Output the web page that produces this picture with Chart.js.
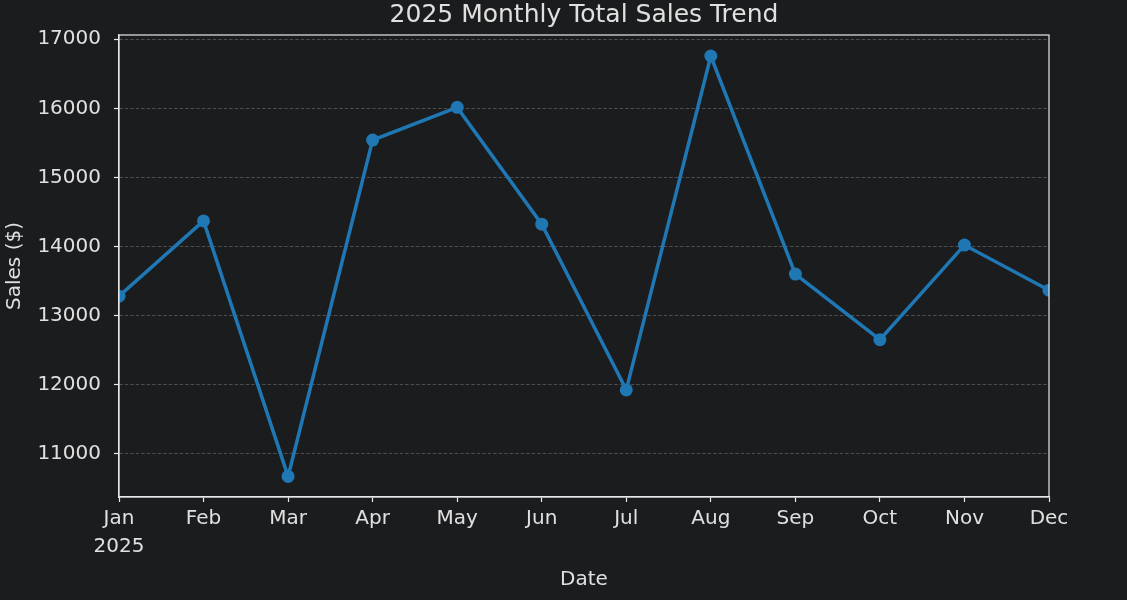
<!DOCTYPE html>
<html>
<head>
<meta charset="utf-8">
<script src="https://cdn.jsdelivr.net/npm/chart.js@4.4.1/dist/chart.umd.min.js"></script>
<style>
  html, body { margin: 0; padding: 0; background: #1b1c1e; }
  #wrap { width: 1127px; height: 600px; position: relative; }
</style>
</head>
<body>
<div id="wrap"><canvas id="salesChart"></canvas></div>
<script>
// data
const months = ['Jan', 'Feb', 'Mar', 'Apr', 'May', 'Jun', 'Jul', 'Aug', 'Sep', 'Oct', 'Nov', 'Dec'];
const monthLabels = [['Jan', '2025'], 'Feb', 'Mar', 'Apr', 'May', 'Jun', 'Jul', 'Aug', 'Sep', 'Oct', 'Nov', 'Dec'];
const sales = [13280, 14370, 10670, 15541, 16014, 14323, 11923, 16758, 13600, 12650, 14020, 13367];
const yTicks = [11000, 12000, 13000, 14000, 15000, 16000, 17000];

const textColor = '#e0e0e0';
const spineColor = '#e8e8e8';
const font = 'DejaVu Sans';

// matplotlib-style box round the plot area
const boxPlugin = {
  id: 'box',
  afterDatasetsDraw(chart) {
    const { ctx, chartArea: a } = chart;
    ctx.save();
    ctx.strokeStyle = spineColor;
    ctx.lineWidth = 1.2;
    ctx.strokeRect(a.left, a.top, a.right - a.left, a.bottom - a.top);
    ctx.restore();
  }
};

const ctx = document.getElementById('salesChart').getContext('2d');
new Chart(ctx, {
  type: 'line',
  data: {
    labels: monthLabels,
    datasets: [{
      label: 'Sales',
      data: sales,
      borderColor: '#1f77b4',
      backgroundColor: '#1f77b4',
      borderWidth: 3.5,
      pointRadius: 6.5,
      pointHoverRadius: 6.5,
      pointBorderWidth: 0,
      tension: 0,
      clip: 0
    }]
  },
  options: {
    responsive: true,
    maintainAspectRatio: false,
    animation: false,
    layout: { padding: { top: 0, right: 78, bottom: 0, left: 0 } },
    plugins: {
      legend: { display: false },
      tooltip: { enabled: false },
      title: {
        display: true,
        fullSize: false,
        text: '2025 Monthly Total Sales Trend',
        color: textColor,
        font: { family: font, size: 25, weight: 'normal', lineHeight: 1.2 },
        padding: { top: 0, bottom: 5 }
      }
    },
    scales: {
      x: {
        type: 'category',
        offset: false,
        grid: { drawOnChartArea: false, tickLength: 5, tickColor: spineColor, tickWidth: 1.2 },
        border: { color: spineColor, width: 1.2 },
        ticks: { color: textColor, font: { family: font, size: 20, lineHeight: 1.4 }, padding: 3, maxRotation: 0, autoSkip: false },
        title: { display: true, text: 'Date', color: textColor, font: { family: font, size: 20, lineHeight: 1.2 }, padding: { top: 0, bottom: 8 } },
        afterFit(scale) { scale.height = 103; }
      },
      y: {
        min: 10372,
        max: 17062,
        grid: { color: '#5c5c5c', lineWidth: 0.8, tickLength: 5, tickColor: spineColor, tickBorderDash: [], tickWidth: 1.2 },
        border: { color: spineColor, width: 1.2, dash: [3.5, 2] },
        ticks: { color: textColor, font: { family: font, size: 20 }, padding: 13, callback: v => String(v) },
        afterBuildTicks(scale) { scale.ticks = yTicks.map(v => ({ value: v })); },
        title: { display: true, text: 'Sales ($)', color: textColor, font: { family: font, size: 20, lineHeight: 1.2 }, padding: { top: 3, bottom: 0 } },
        afterFit(scale) { scale.width = 119; }
      }
    }
  },
  plugins: [boxPlugin]
});
</script>
</body>
</html>
